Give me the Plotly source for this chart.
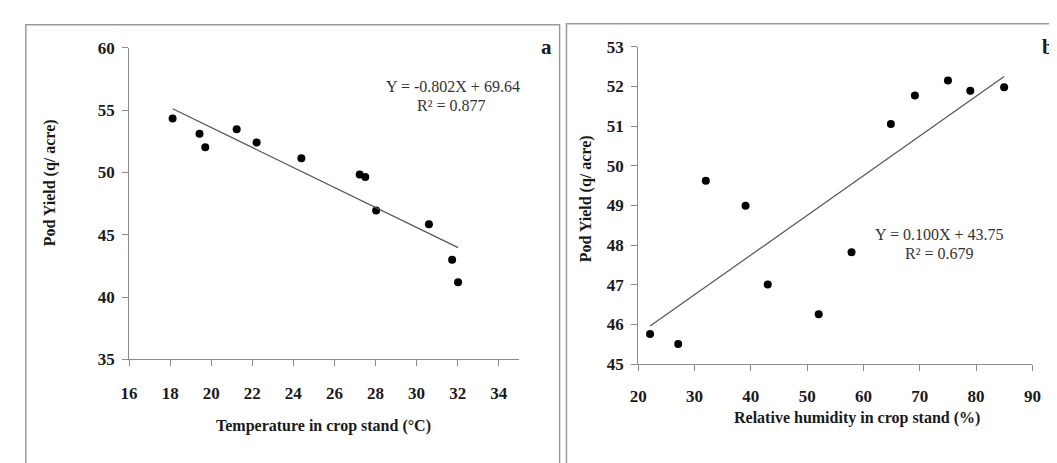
import plotly.graph_objects as go

# Panel a: temperature vs pod yield
temp_x = [18.12, 19.43, 19.71, 21.24, 22.21, 24.39, 27.23, 27.50, 28.03, 30.60, 31.73, 32.02]
temp_y = [54.32, 53.09, 52.01, 53.45, 52.39, 51.14, 49.83, 49.63, 46.95, 45.84, 42.99, 41.19]
temp_slope, temp_icpt = -0.802, 69.64

# Panel b: relative humidity vs pod yield
rh_x = [22.1, 27.1, 32.0, 39.06, 43.0, 52.05, 57.88, 64.87, 69.13, 75.0, 78.97, 84.98]
rh_y = [45.76, 45.51, 49.62, 48.99, 47.01, 46.26, 47.82, 51.05, 51.77, 52.15, 51.89, 51.98]
rh_slope, rh_icpt = 0.100, 43.75

W, H = 1057, 463
def px(x):
    return x / W
def py(y):
    return 1 - y / H

FONT = "Liberation Serif, Times New Roman, serif"
fig = go.Figure()

fig.add_trace(go.Scatter(x=temp_x, y=temp_y, mode="markers",
                         marker=dict(color="black", size=8), xaxis="x", yaxis="y", showlegend=False))
tx = [min(temp_x), max(temp_x)]
fig.add_trace(go.Scatter(x=tx, y=[temp_slope * v + temp_icpt for v in tx], mode="lines",
                         line=dict(color="#555555", width=1.2), xaxis="x", yaxis="y", showlegend=False))

fig.add_trace(go.Scatter(x=rh_x, y=rh_y, mode="markers",
                         marker=dict(color="black", size=8), xaxis="x2", yaxis="y2", showlegend=False))
rx = [min(rh_x), max(rh_x)]
fig.add_trace(go.Scatter(x=rx, y=[rh_slope * v + rh_icpt for v in rx], mode="lines",
                         line=dict(color="#555555", width=1.2), xaxis="x2", yaxis="y2", showlegend=False))

tickfont = dict(family=FONT, size=17, color="#1a1a1a", weight="bold")
axcommon = dict(showgrid=False, zeroline=False, showline=True, linecolor="#8c8c8c", linewidth=1,
                ticks="outside", ticklen=6, tickcolor="#8c8c8c", tickfont=tickfont)

fig.update_layout(
    width=W, height=H, margin=dict(l=0, r=0, t=0, b=0),
    paper_bgcolor="white", plot_bgcolor="white",
    font=dict(family=FONT, color="#1a1a1a"),
    xaxis=dict(domain=[px(114), px(511)], range=[16, 35], tickvals=list(range(16, 35, 2)),
               anchor="y", ticklabelstandoff=12, **axcommon),
    yaxis=dict(domain=[py(357), py(32)], range=[35, 60], dtick=5, anchor="x",
               ticklabelstandoff=4, **axcommon),
    xaxis2=dict(domain=[px(632), px(1033)], range=[20, 90], dtick=10, anchor="y2",
                ticklabelstandoff=10, **axcommon),
    yaxis2=dict(domain=[py(362), py(31)], range=[45, 53], dtick=1, anchor="x2",
                ticklabelstandoff=4, **axcommon),
)

frame = dict(color="#9a9a9a", width=1.5)
fig.add_shape(type="rect", xref="paper", yref="paper", x0=px(9), x1=px(552), y0=-0.02, y1=py(8), line=frame)
fig.add_shape(type="rect", xref="paper", yref="paper", x0=px(559), x1=1.02, y0=-0.02, y1=py(7), line=frame)

def ann(text, x, y, size=16, bold=True, angle=0, color="#1a1a1a", xanchor="center"):
    t = f"<b>{text}</b>" if bold else text
    fig.add_annotation(text=t, xref="paper", yref="paper", x=px(x), y=py(y), showarrow=False,
                       xanchor=xanchor, yanchor="middle", textangle=angle,
                       font=dict(family=FONT, size=size, color=color))

ann("Temperature in crop stand (°C)", 312, 427)
ann("Pod Yield (q/ acre)", 33, 173, angle=-90)
ann("Relative humidity in crop stand (%)", 855, 418)
ann("Pod Yield (q/ acre)", 579, 190, angle=-90)
ann("a", 539, 31, size=21)
ann("b", 1057, 31, size=21, xanchor="right")

ann(f"Y = {temp_slope:.3f}X + {temp_icpt:.2f}", 444, 72, size=16, bold=False, color="#333333")
ann("R² = 0.877", 442, 92, size=16, bold=False, color="#333333")
ann(f"Y = {rh_slope:.3f}X + {rh_icpt:.2f}", 938, 227, size=16, bold=False, color="#333333")
ann("R² = 0.679", 938, 247, size=16, bold=False, color="#333333")

fig.write_html("out.html")
